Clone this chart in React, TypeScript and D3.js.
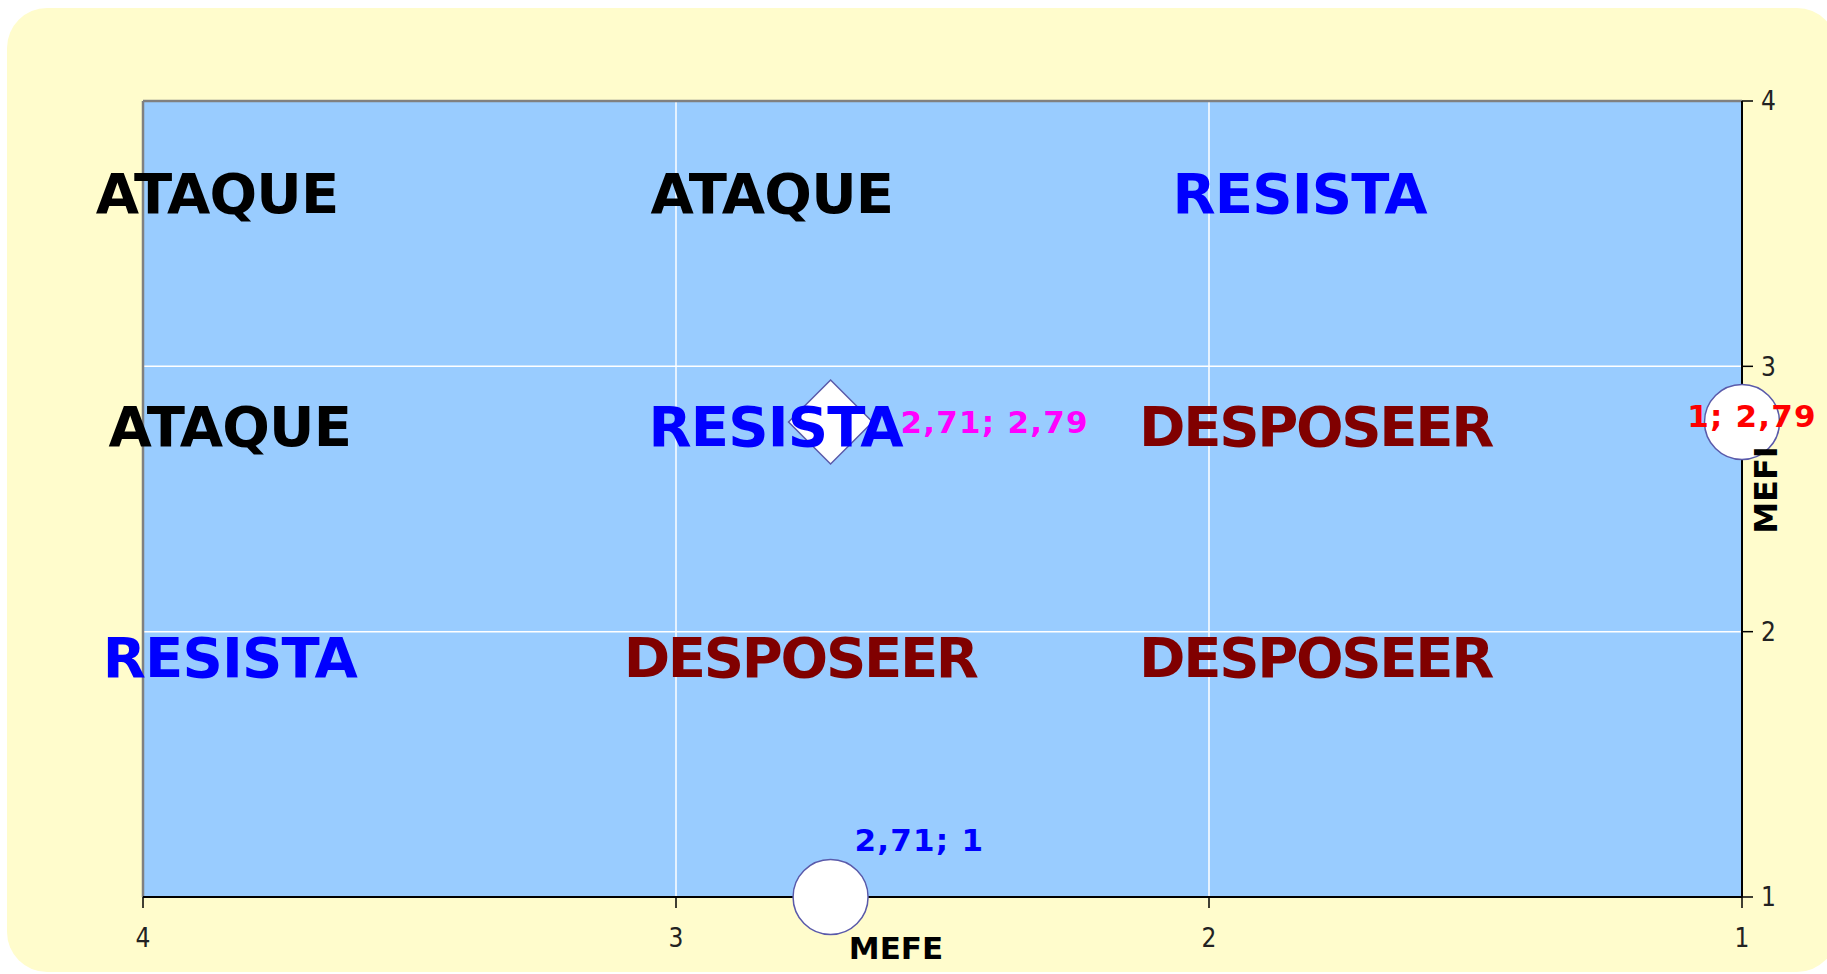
import React from "react";
import * as d3 from "d3";

// ---- data ----
const xTicks = [4, 3, 2, 1];
const yTicks = [1, 2, 3, 4];

const zoneLabels = ["ATAQUE", "ATAQUE", "RESISTA", "ATAQUE", "RESISTA", "DESPOSEER", "RESISTA", "DESPOSEER", "DESPOSEER"];
const zoneX = [3.861, 2.82, 1.83, 3.837, 2.813, 1.8, 3.837, 2.767, 1.8];
const zoneY = [3.655, 3.655, 3.655, 2.775, 2.775, 2.775, 1.905, 1.905, 1.905];

const pointNames = ["posición", "MEFE", "MEFI"];
const pointX = [2.71, 1, 2.71];
const pointY = [2.79, 2.79, 1];
const pointShapes = ["diamond", "circle", "circle"];

const W = 1827;
const H = 974;
const plot = { left: 143, right: 1742, top: 101, bottom: 897 };

const zoneColor: Record<string, string> = {
  ATAQUE: "#000000",
  RESISTA: "#0000ff",
  DESPOSEER: "#800000",
};
const zoneSpacing: Record<string, number> = {
  ATAQUE: -0.8,
  RESISTA: -0.8,
  DESPOSEER: -2.3,
};
const pointColor = ["#ff00ff", "#ff0000", "#0000ff"];
const labelOffset: [number, number, string][] = [
  [70, 0, "start"],
  [10, -6, "middle"],
  [24, -57, "start"],
];

const fmt = (v: number) => String(v).replace(".", ",");

export default function App() {
  const x = d3.scaleLinear().domain([4, 1]).range([plot.left, plot.right]);
  const y = d3.scaleLinear().domain([1, 4]).range([plot.bottom, plot.top]);
  const bigFont = "'DejaVu Sans', Verdana, sans-serif";

  return (
    <svg
      width={W}
      height={H}
      style={{ position: "absolute", left: 0, top: 0, background: "#ffffff" }}
    >
      <rect x={7} y={8} width={1830} height={964} rx={40} ry={40} fill="#fffccc" />
      <rect
        x={plot.left}
        y={plot.top}
        width={plot.right - plot.left}
        height={plot.bottom - plot.top}
        fill="#99ccff"
      />
      {/* grid */}
      {xTicks.filter((t) => t !== 4 && t !== 1).map((t) => (
        <line key={"gx" + t} x1={x(t)} x2={x(t)} y1={plot.top} y2={plot.bottom} stroke="#ffffff" strokeWidth={1.5} />
      ))}
      {yTicks.filter((t) => t !== 1 && t !== 4).map((t) => (
        <line key={"gy" + t} x1={plot.left} x2={plot.right} y1={y(t)} y2={y(t)} stroke="#ffffff" strokeWidth={1.5} />
      ))}
      {/* plot border */}
      <line x1={plot.left} x2={plot.right} y1={plot.top} y2={plot.top} stroke="#808080" strokeWidth={2.5} />
      <line x1={plot.left} x2={plot.left} y1={plot.top} y2={plot.bottom} stroke="#808080" strokeWidth={2.5} />
      {/* axes */}
      <line x1={plot.left} x2={plot.right} y1={plot.bottom} y2={plot.bottom} stroke="#000000" strokeWidth={2} />
      <line x1={plot.right} x2={plot.right} y1={plot.top} y2={plot.bottom} stroke="#000000" strokeWidth={2} />
      {xTicks.map((t) => (
        <g key={"xt" + t}>
          <line x1={x(t)} x2={x(t)} y1={plot.bottom} y2={plot.bottom + 11} stroke="#000" strokeWidth={1.5} />
          <text x={x(t)} y={947} textAnchor="middle" fontFamily="'DejaVu Sans Condensed', 'DejaVu Sans', sans-serif" fontSize={26} fill="#222">
            {t}
          </text>
        </g>
      ))}
      {yTicks.map((t) => (
        <g key={"yt" + t}>
          <line x1={plot.right} x2={plot.right + 11} y1={y(t)} y2={y(t)} stroke="#000" strokeWidth={1.5} />
          <text x={plot.right + 19} y={y(t)} dy="0.36em" textAnchor="start" fontFamily="'DejaVu Sans Condensed', 'DejaVu Sans', sans-serif" fontSize={26} fill="#222">
            {t}
          </text>
        </g>
      ))}
      {/* points */}
      {pointX.map((px, i) => {
        const cx = x(px);
        const cy = y(pointY[i]);
        const sym =
          pointShapes[i] === "diamond"
            ? d3.symbol().type(d3.symbolDiamond2).size(4500)()
            : d3.symbol().type(d3.symbolCircle).size(Math.PI * 37.5 * 37.5)();
        return (
          <path
            key={"p" + i}
            d={sym || ""}
            transform={`translate(${cx},${cy})`}
            fill="#ffffff"
            stroke="#5a5aaa"
            strokeWidth={1.5}
          />
        );
      })}
      {/* zone labels (drawn above the markers) */}
      {zoneLabels.map((s, i) => (
        <text
          key={"z" + i}
          x={x(zoneX[i])}
          y={y(zoneY[i])}
          dy="0.36em"
          textAnchor="middle"
          fontFamily={bigFont}
          fontWeight="bold"
          fontSize={56}
          letterSpacing={zoneSpacing[s]}
          fill={zoneColor[s]}
        >
          {s}
        </text>
      ))}
      {/* point labels */}
      {pointX.map((px, i) => (
        <text
          key={"pl" + i}
          x={x(px) + labelOffset[i][0]}
          y={y(pointY[i]) + labelOffset[i][1]}
          dy="0.36em"
          textAnchor={labelOffset[i][2] as any}
          fontFamily={bigFont}
          fontWeight="bold"
          fontSize={31}
          letterSpacing={1.2}
          fill={pointColor[i]}
        >
          {fmt(px) + "; " + fmt(pointY[i])}
        </text>
      ))}
      {/* axis titles */}
      <text x={896} y={959} textAnchor="middle" fontFamily={bigFont} fontWeight="bold" fontSize={31} fill="#000">
        MEFE
      </text>
      <text
        transform="translate(1777,490) rotate(-90)"
        textAnchor="middle"
        fontFamily={bigFont}
        fontWeight="bold"
        fontSize={32}
        fill="#000"
      >
        MEFI
      </text>
    </svg>
  );
}
